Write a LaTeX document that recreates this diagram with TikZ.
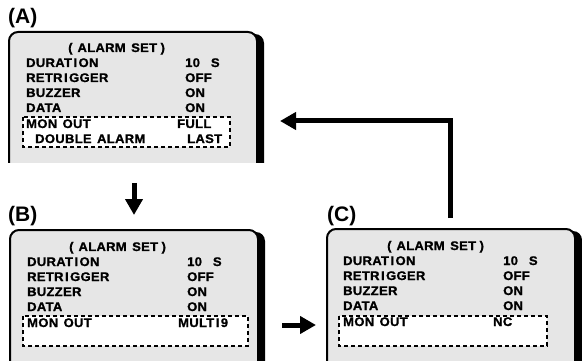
\documentclass[tikz,border=0pt]{standalone}
\usepackage{fontspec}
\setmainfont{Liberation Sans}
\newfontfamily\osd{Liberation Sans}[FakeStretch=1.04,LetterSpace=2.5,FakeBold=1.2,WordSpace=1.4]
\usetikzlibrary{arrows.meta}
\newcommand\Ii{\kern1.5pt I\kern1.5pt}
\newcommand\lp{(\kern5pt}
\newcommand\rp{\kern3.5pt)}
\definecolor{boxg}{RGB}{230,230,230}
\tikzset{
  txt/.style={anchor=base west, inner sep=0pt, font=\osd\bfseries\fontsize{12.5}{13}\selectfont},
  lbl/.style={anchor=base west, inner sep=0pt, font=\bfseries\fontsize{21}{21}\selectfont},
  frame/.style={draw=black, line width=2pt, rounded corners=9pt},
  shade/.style={fill=black, rounded corners=9pt},
  panel/.style={fill=boxg, rounded corners=9pt},
  sel/.style={draw=black, line width=1.2pt, dash pattern=on 4pt off 3pt},
  flow/.style={line width=5pt, -{Triangle[length=16pt,width=17pt]}}
}
\begin{document}
\begin{tikzpicture}[x=1pt,y=-1pt]
\useasboundingbox (0,0) rectangle (582,361);
% ---------- Panel A
\path[shade] (15,163) |- (264,34) -- (264,163);
\path[panel] (9,163) |- (257,32) -- (257,163);
\path[frame] (9,163) |- (257,32) -- (257,163);
\node[lbl] (la) at (8,24) {(A)};
\node[txt] (a0) at (68,52) {\lp ALARM SET\rp};
\node[txt] (a1) at (26,67) {DURAT\Ii ON};
\node[txt] (a1v) at (185,67) {10\ \ S};
\node[txt] (a2) at (26,82) {RETR\Ii GGER};
\node[txt] (a2v) at (185,82) {OFF};
\node[txt] (a3) at (26,97) {BUZZER};
\node[txt] (a3v) at (185,97) {ON};
\node[txt] (a4) at (26,112) {DATA};
\node[txt] (a4v) at (185,112) {ON};
\fill[white] (23,117) rectangle (230,147);
\draw[sel] (23,117) rectangle (230,147);
\node[txt] (a5) at (26,128) {MON OUT};
\node[txt] (a5v) at (177,128) {FULL};
\node[txt] (a6) at (35,143) {DOUBLE ALARM};
\node[txt] (a6v) at (187,143) {LAST};
% ---------- Panel B
\path[shade] (16,362) |- (265,232) -- (265,362);
\path[panel] (10,362) |- (258,230) -- (258,362);
\path[frame] (10,362) |- (258,230) -- (258,362);
\node[lbl] (lb) at (8,222) {(B)};
\node[txt] (b0) at (69,251) {\lp ALARM SET\rp};
\node[txt] (b1) at (27,266) {DURAT\Ii ON};
\node[txt] (b1v) at (187,266) {10\ \ S};
\node[txt] (b2) at (27,281) {RETR\Ii GGER};
\node[txt] (b2v) at (187,281) {OFF};
\node[txt] (b3) at (27,296) {BUZZER};
\node[txt] (b3v) at (187,296) {ON};
\node[txt] (b4) at (27,311) {DATA};
\node[txt] (b4v) at (187,311) {ON};
\fill[white] (23,316) rectangle (248,346);
\draw[sel] (23,316) rectangle (248,346);
\node[txt] (b5) at (27,327) {MON OUT};
\node[txt] (b5v) at (178,327) {MULT\Ii 9};
% ---------- Panel C
\path[shade] (333,362) |- (582,231) -- (582,362);
\path[panel] (327,362) |- (575,229) -- (575,362);
\path[frame] (327,362) |- (575,229) -- (575,362);
\node[lbl] (lc) at (327,221) {(C)};
\node[txt] (c0) at (387,250) {\lp ALARM SET\rp};
\node[txt] (c1) at (343,265) {DURAT\Ii ON};
\node[txt] (c1v) at (503,265) {10\ \ S};
\node[txt] (c2) at (343,280) {RETR\Ii GGER};
\node[txt] (c2v) at (503,280) {OFF};
\node[txt] (c3) at (343,295) {BUZZER};
\node[txt] (c3v) at (503,295) {ON};
\node[txt] (c4) at (343,310) {DATA};
\node[txt] (c4v) at (503,310) {ON};
\fill[white] (339,316) rectangle (547,346);
\draw[sel] (339,316) rectangle (547,346);
\node[txt] (c5) at (343,326) {MON OUT};
\node[txt] (c5v) at (493,326) {NC};
% ---------- Arrows
\coordinate (d1) at (134,183);
\coordinate (d2) at (134,215);
\coordinate (r1) at (282,325);
\coordinate (r2) at (316,325);
\coordinate (u1) at (450,218);
\coordinate (u2) at (280,121);
\draw[flow] (d1) -- (d2);
\draw[flow] (r1) -- (r2);
\draw[flow] (u1) |- (u2);
\end{tikzpicture}
\end{document}
